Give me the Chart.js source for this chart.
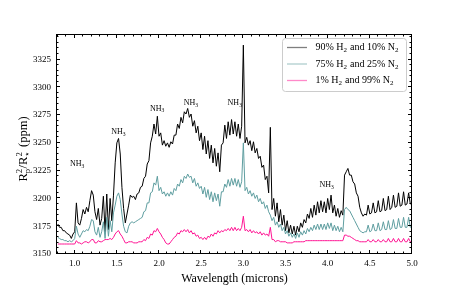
<!DOCTYPE html>
<html><head><meta charset="utf-8">
<script src="https://cdn.jsdelivr.net/npm/chart.js@4.4.1/dist/chart.umd.min.js"></script>
<style>html,body{margin:0;padding:0;background:#fff;}#wrap{width:457px;height:286px;}</style>
</head><body><div id="wrap"><canvas id="c" width="457" height="286"></canvas></div>
<script>
const wavelength = [
0.80,0.82,0.84,0.86,0.88,0.90,0.92,0.94,0.96,0.98,
1.00,1.02,1.04,1.06,1.08,1.10,1.12,1.14,1.16,1.18,
1.20,1.22,1.24,1.26,1.28,1.30,1.32,1.34,1.36,1.38,
1.40,1.42,1.44,1.46,1.48,1.50,1.52,1.54,1.56,1.58,
1.60,1.62,1.64,1.66,1.68,1.70,1.72,1.74,1.76,1.78,
1.80,1.82,1.84,1.86,1.88,1.90,1.92,1.94,1.96,1.98,
2.00,2.02,2.04,2.06,2.08,2.10,2.12,2.14,2.16,2.18,
2.20,2.22,2.24,2.26,2.28,2.30,2.32,2.34,2.36,2.38,
2.40,2.42,2.44,2.46,2.48,2.50,2.52,2.54,2.56,2.58,
2.60,2.62,2.64,2.66,2.68,2.70,2.72,2.74,2.76,2.78,
2.80,2.82,2.84,2.86,2.88,2.90,2.92,2.94,2.96,2.98,
3.00,3.02,3.04,3.06,3.08,3.10,3.12,3.14,3.16,3.18,
3.20,3.22,3.24,3.26,3.28,3.30,3.32,3.34,3.36,3.38,
3.40,3.42,3.44,3.46,3.48,3.50,3.52,3.54,3.56,3.58,
3.60,3.62,3.64,3.66,3.68,3.70,3.72,3.74,3.76,3.78,
3.80,3.82,3.84,3.86,3.88,3.90,3.92,3.94,3.96,3.98,
4.00,4.02,4.04,4.06,4.08,4.10,4.12,4.14,4.16,4.18,
4.20,4.22,4.24,4.26,4.28,4.30,4.32,4.34,4.36,4.38,
4.40,4.42,4.44,4.46,4.48,4.50,4.52,4.54,4.56,4.58,
4.60,4.62,4.64,4.66,4.68,4.70,4.72,4.74,4.76,4.78,
4.80,4.82,4.84,4.86,4.88,4.90,4.92,4.94,4.96,4.98,
5.00];
const h2_90 = [
3177,3174,3174,3171,3171,3169,3168,3167,3164,3168,
3170,3196,3178,3176,3182,3190,3186,3192,3188,3198,
3207,3203,3188,3181,3191,3176,3182,3202,3170,3204,
3172,3200,3180,3203,3232,3250,3254,3240,3210,3191,
3178,3186,3194,3203,3201,3202,3199,3204,3205,3210,
3211,3218,3220,3231,3234,3250,3256,3267,3258,3274,
3256,3259,3248,3252,3247,3250,3246,3251,3249,3257,
3257,3267,3263,3273,3268,3278,3276,3281,3273,3276,
3265,3270,3259,3265,3252,3259,3244,3256,3240,3252,
3236,3248,3232,3245,3229,3241,3224,3248,3250,3266,
3254,3269,3257,3271,3258,3269,3256,3267,3254,3265,
3338,3250,3255,3248,3252,3243,3251,3241,3245,3236,
3238,3228,3230,3217,3220,3205,3264,3190,3200,3184,
3196,3179,3190,3176,3185,3171,3180,3169,3176,3168,
3175,3167,3175,3170,3178,3174,3181,3178,3186,3182,
3191,3183,3194,3185,3197,3187,3198,3188,3197,3187,
3200,3190,3203,3187,3194,3184,3191,3183,3189,3185,
3221,3224,3227,3221,3221,3215,3213,3205,3202,3192,
3187,3184,3186,3185,3194,3186,3187,3196,3187,3188,
3198,3188,3189,3200,3189,3190,3202,3190,3192,3203,
3192,3193,3205,3193,3194,3206,3194,3195,3205,3195,
3196];
const h2_75 = [
3165,3164,3163,3163,3162,3162,3161,3162,3161,3162,
3164,3175,3168,3165,3168,3171,3170,3172,3171,3175,
3181,3180,3170,3167,3174,3165,3170,3179,3164,3183,
3166,3180,3170,3187,3194,3202,3205,3199,3186,3175,
3170,3169,3175,3178,3179,3178,3179,3180,3181,3182,
3183,3188,3189,3196,3196,3205,3206,3214,3212,3220,
3207,3210,3204,3206,3202,3205,3202,3206,3203,3209,
3207,3213,3211,3217,3214,3220,3218,3222,3219,3220,
3214,3218,3211,3214,3209,3211,3204,3210,3201,3208,
3199,3206,3197,3205,3198,3204,3193,3206,3206,3213,
3210,3217,3211,3218,3212,3218,3211,3217,3210,3215,
3250,3207,3210,3204,3207,3202,3205,3200,3203,3197,
3200,3195,3197,3191,3194,3188,3185,3180,3183,3176,
3179,3174,3177,3171,3174,3168,3171,3166,3169,3165,
3168,3164,3169,3165,3170,3167,3171,3168,3173,3170,
3174,3171,3176,3172,3177,3172,3177,3172,3177,3172,
3178,3173,3178,3171,3176,3171,3175,3170,3174,3170,
3190,3192,3190,3189,3186,3183,3180,3177,3174,3171,
3170,3169,3170,3170,3176,3170,3171,3177,3171,3171,
3178,3171,3172,3179,3172,3172,3180,3172,3173,3181,
3173,3173,3182,3174,3174,3183,3174,3174,3183,3174,
3175];
const h2_01 = [
3159,3159,3159,3159,3159,3159,3159,3159,3159,3159,
3159,3162,3160,3160,3159,3160,3161,3161,3160,3161,
3163,3163,3160,3160,3162,3161,3161,3162,3163,3163,
3163,3164,3163,3165,3168,3170,3171,3168,3166,3163,
3160,3160,3161,3161,3161,3160,3160,3160,3161,3161,
3161,3163,3162,3165,3164,3168,3167,3171,3170,3173,
3170,3168,3165,3163,3160,3159,3159,3161,3163,3165,
3166,3169,3168,3171,3170,3172,3170,3172,3169,3171,
3168,3169,3166,3167,3164,3165,3163,3165,3163,3166,
3165,3168,3166,3169,3168,3171,3169,3171,3170,3172,
3171,3173,3171,3174,3171,3174,3171,3173,3171,3174,
3184,3171,3172,3170,3172,3169,3171,3169,3170,3168,
3170,3167,3169,3167,3168,3166,3174,3163,3163,3161,
3162,3162,3161,3161,3161,3161,3160,3160,3160,3160,
3161,3161,3161,3161,3161,3161,3161,3162,3162,3162,
3162,3162,3162,3162,3162,3162,3162,3162,3162,3162,
3162,3162,3162,3162,3162,3162,3162,3162,3162,3162,
3167,3167,3166,3166,3165,3164,3163,3162,3162,3161,
3161,3161,3161,3161,3163,3161,3161,3163,3161,3161,
3163,3161,3161,3163,3161,3161,3164,3161,3161,3164,
3161,3161,3164,3161,3161,3164,3161,3161,3164,3161,
3161];
const seriesLabels = ['90% H_{2} and 10% N_{2}', '75% H_{2} and 25% N_{2}', '1% H_{2} and 99% N_{2}'];
const xTickValues = [1.0,1.5,2.0,2.5,3.0,3.5,4.0,4.5,5.0];
const yTickValues = [3150,3175,3200,3225,3250,3275,3300,3325];
const annotationX = [1.03,1.52,1.98,2.38,2.90,3.99];
const annotationY = [3231,3260,3281,3286,3286,3212];
const annotationText = 'NH_{3}';
const yTitle = 'R_{p}^{2}/R_{\u22C6}^{2} (ppm)';
const xTitle = 'Wavelength (microns)';

const FAM = '"Liberation Serif", "DejaVu Serif", serif';
const colors = ['#000000', '#5f9ea0', '#ff1493'];

function parseRich(s){const out=[];let i=0,buf='';
  while(i<s.length){const c=s[i];
    if((c==='_'||c==='^')&&s[i+1]==='{'){if(buf){out.push({t:buf,k:'n'});buf='';}
      const j=s.indexOf('}',i);out.push({t:s.slice(i+2,j),k:c==='_'?'sub':'sup'});i=j+1;}
    else{buf+=c;i++;}}
  if(buf)out.push({t:buf,k:'n'});return out;}
function layoutRich(ctx,s,size){const toks=parseRich(s);const items=[];let x=0;
  for(let i=0;i<toks.length;i++){const t=toks[i];
    if(t.k==='n'){ctx.font=size+'px '+FAM;const w=ctx.measureText(t.t).width;items.push({t:t.t,x:x,dy:0,sz:size});x+=w;}
    else{const ss=size*0.7;ctx.font=ss+'px '+FAM;let w=ctx.measureText(t.t).width;
      items.push({t:t.t,x:x,dy:t.k==='sub'?size*0.3:-size*0.38,sz:ss});
      const n=toks[i+1];
      if(n&&n.k!=='n'&&n.k!==t.k){const w2=ctx.measureText(n.t).width;items.push({t:n.t,x:x,dy:n.k==='sub'?size*0.3:-size*0.38,sz:ss});w=Math.max(w,w2);i++;}
      x+=w+size*0.04;}}
  return {items:items,width:x};}
function drawRich(ctx,s,x,y,size,align,color){const L=layoutRich(ctx,s,size);
  const x0=align==='center'?x-L.width/2:align==='right'?x-L.width:x;
  ctx.fillStyle=color;ctx.textBaseline='middle';ctx.textAlign='left';
  for(const it of L.items){ctx.font=it.sz+'px '+FAM;ctx.fillText(it.t,x0+it.x,y+it.dy);}
  return L.width;}

const decor = {
  id:'decor',
  afterDraw(chart){
    const ctx=chart.ctx, a=chart.chartArea, xs=chart.scales.x, ys=chart.scales.y;
    ctx.save();
    ctx.strokeStyle='#000';ctx.lineWidth=1;
    const L=Math.round(a.left)-0.5,R=Math.round(a.right)-0.5,T=Math.round(a.top)+0.5,B=Math.round(a.bottom)-0.5;
    ctx.strokeRect(L,T,R-L,B-T);
    ctx.beginPath();
    for(let k=8;k<=50;k++){const v=k/10;const px=Math.round(xs.getPixelForValue(v))-0.5;const len=(k%5===0)?3.5:2;
      ctx.moveTo(px,B);ctx.lineTo(px,B-len);ctx.moveTo(px,T);ctx.lineTo(px,T+len);}
    for(let v=3150;v<=3345;v+=5){const py=Math.round(ys.getPixelForValue(v))-0.5;const len=(v%25===0)?3.5:2;
      ctx.moveTo(L,py);ctx.lineTo(L+len,py);ctx.moveTo(R,py);ctx.lineTo(R-len,py);}
    ctx.stroke();
    for(let i=0;i<annotationX.length;i++){
      drawRich(ctx,annotationText,xs.getPixelForValue(annotationX[i]),ys.getPixelForValue(annotationY[i]),8,'center','#000');}
    ctx.save();ctx.translate(24,149);ctx.rotate(-Math.PI/2);
    drawRich(ctx,yTitle,0,0,12.5,'center','#000');ctx.restore();
    const bx=282.5,by=38.5,bw=124,bh=53;
    ctx.fillStyle='rgba(255,255,255,0.85)';ctx.strokeStyle='#cccccc';ctx.lineWidth=1;
    ctx.beginPath();ctx.roundRect(bx,by,bw,bh,3);ctx.fill();ctx.stroke();
    const rows=[47.5,64,80.5];
    chart.data.datasets.forEach((ds,i)=>{
      ctx.globalAlpha=0.5;ctx.strokeStyle=ds.borderColor;ctx.lineWidth=1.3;
      ctx.beginPath();ctx.moveTo(287,rows[i]);ctx.lineTo(307,rows[i]);ctx.stroke();
      ctx.globalAlpha=1;
      drawRich(ctx,seriesLabels[i],315.5,rows[i],10,'left','#000');});
    ctx.restore();
  }
};

const mk=(arr)=>wavelength.map((w,i)=>({x:w,y:arr[i]}));
new Chart(document.getElementById('c'),{
  type:'line',
  data:{datasets:[
    {label:'90% H2 and 10% N2',data:mk(h2_90),borderColor:colors[0],borderWidth:1,pointRadius:0,tension:0,order:3},
    {label:'75% H2 and 25% N2',data:mk(h2_75),borderColor:colors[1],borderWidth:1,pointRadius:0,tension:0,order:2},
    {label:'1% H2 and 99% N2',data:mk(h2_01),borderColor:colors[2],borderWidth:1,pointRadius:0,tension:0,order:1}
  ]},
  options:{
    responsive:false,animation:false,devicePixelRatio:1,
    layout:{padding:{left:0,top:34,right:45,bottom:0}},
    plugins:{legend:{display:false},tooltip:{enabled:false}},
    scales:{
      x:{type:'linear',min:0.79,max:5.0,
        grid:{display:false,drawTicks:false},border:{display:false},
        afterBuildTicks:(s)=>{s.ticks=xTickValues.map(v=>({value:v}));},
        afterFit:(s)=>{s.height=32;},
        ticks:{padding:4,color:'#000',font:{family:FAM,size:9},maxRotation:0,autoSkip:false,callback:(v)=>Number(v).toFixed(1)},
        title:{display:true,text:xTitle,color:'#000',font:{family:FAM,size:12},padding:{top:2,bottom:0}}},
      y:{type:'linear',min:3150,max:3348,
        grid:{display:false,drawTicks:false},border:{display:false},
        afterBuildTicks:(s)=>{s.ticks=yTickValues.map(v=>({value:v}));},
        afterFit:(s)=>{s.width=57;},
        ticks:{padding:6,color:'#000',font:{family:FAM,size:9},autoSkip:false,callback:(v)=>String(v)}}
    }
  },
  plugins:[decor]
});
</script></body></html>
